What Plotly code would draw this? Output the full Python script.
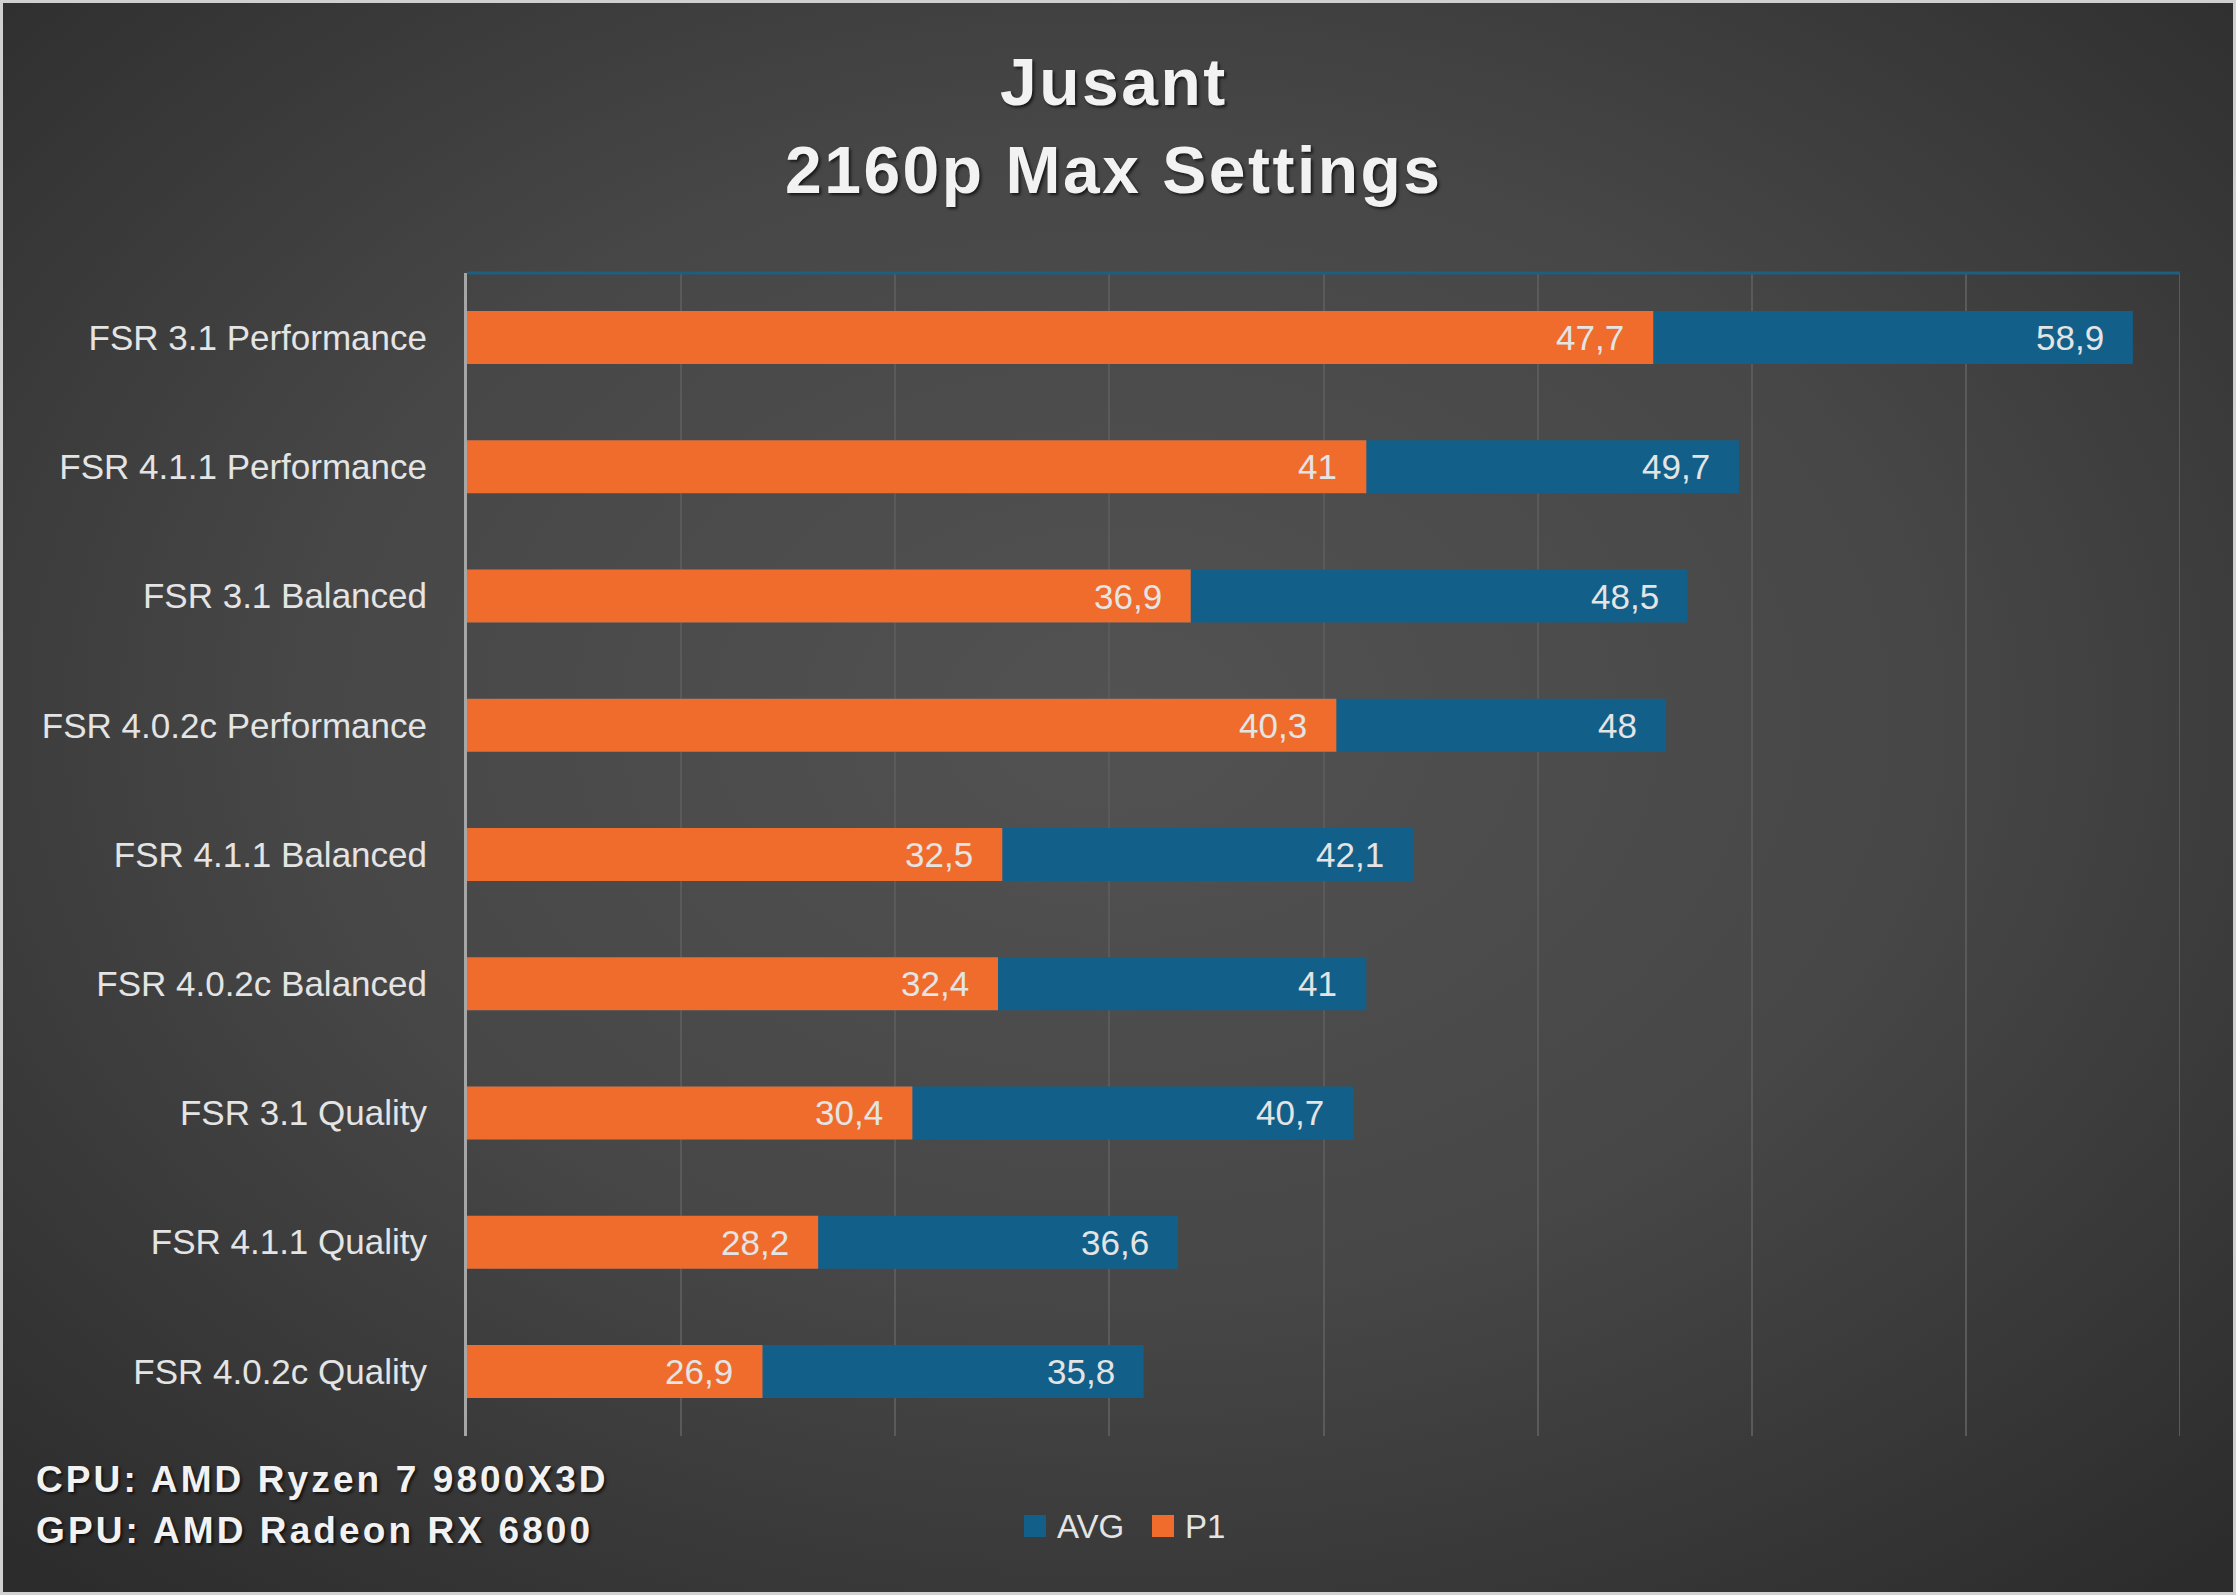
import base64
import plotly.graph_objects as go

# ---------------- data ----------------
categories = [
    "FSR 3.1 Performance",
    "FSR 4.1.1 Performance",
    "FSR 3.1 Balanced",
    "FSR 4.0.2c Performance",
    "FSR 4.1.1 Balanced",
    "FSR 4.0.2c Balanced",
    "FSR 3.1 Quality",
    "FSR 4.1.1 Quality",
    "FSR 4.0.2c Quality",
]
avg = [58.9, 49.7, 48.5, 48, 42.1, 41, 40.7, 36.6, 35.8]
p1 = [47.7, 41, 36.9, 40.3, 32.5, 32.4, 30.4, 28.2, 26.9]
series_names = ["AVG", "P1"]
title_lines = ["Jusant", "2160p Max Settings"]
system_lines = ["CPU: AMD Ryzen 7 9800X3D", "GPU: AMD Radeon RX 6800"]
x_min, x_max, x_step = 20, 60, 5

# ---------------- layout geometry ----------------
W, H = 2236, 1595
L, R, T, B = 467, 56, 273, 159
PW, PH = W - L - R, H - T - B


def px(x):
    return (x - L) / PW


def py(y):
    return (H - B - y) / PH


def fmt(v):
    return f"{v:g}".replace(".", ",")


BLUE = "#12608A"
ORANGE = "#EF6C2C"
LABEL = "#E4E4E4"
GRID = "#5A5A5A"
shadow = "2px 2px 3px rgba(0,0,0,0.65)"

fig = go.Figure()
fig.add_trace(go.Bar(y=categories, x=avg, orientation="h", name=series_names[0],
                     marker=dict(color=BLUE, line=dict(width=0)), showlegend=False,
                     hoverinfo="x+y"))
fig.add_trace(go.Bar(y=categories, x=p1, orientation="h", name=series_names[1],
                     marker=dict(color=ORANGE, line=dict(width=0)), showlegend=False,
                     hoverinfo="x+y"))

annotations = []
for cat, a, p in zip(categories, avg, p1):
    for v in (a, p):
        annotations.append(dict(x=v, y=cat, xref="x", yref="y", text=fmt(v),
                                showarrow=False, xanchor="right", yanchor="middle",
                                xshift=-27, font=dict(family="Liberation Sans", size=35, color=LABEL)))

title_y = [82, 170]
for t, yy in zip(title_lines, title_y):
    annotations.append(dict(x=px(1114), y=py(yy), xref="paper", yref="paper",
                            text=f'<span style="letter-spacing:2.5px">{t}</span>',
                            showarrow=False, xanchor="center", yanchor="middle",
                            font=dict(family="Liberation Sans", size=66, color="#F2F2F2",
                                      weight="bold", shadow=shadow)))
sys_y = [1479, 1530]
for t, yy in zip(system_lines, sys_y):
    annotations.append(dict(x=px(34), y=py(yy), xref="paper", yref="paper",
                            text=f'<span style="letter-spacing:3.1px">{t}</span>',
                            showarrow=False, xanchor="left", yanchor="middle",
                            font=dict(family="Liberation Sans", size=37, color="#F2F2F2",
                                      weight="bold", shadow=shadow)))

# legend (drawn manually to get the larger square keys)
shapes = []
legend_y = 1526
for nm, col, sx in zip(series_names, [BLUE, ORANGE], [1024, 1152]):
    shapes.append(dict(type="rect", xref="paper", yref="paper",
                       x0=px(sx), x1=px(sx + 22), y0=py(legend_y - 11), y1=py(legend_y + 11),
                       fillcolor=col, line=dict(width=0)))
    annotations.append(dict(x=px(sx + 31), y=py(legend_y), xref="paper", yref="paper",
                            text=nm, showarrow=False, xanchor="left", yanchor="middle",
                            font=dict(family="Liberation Sans", size=33, color=LABEL)))

# right edge gridline (at x_max)
shapes.append(dict(type="line", xref="x", yref="paper", x0=x_max, x1=x_max, y0=0, y1=1,
                   line=dict(color=GRID, width=2), layer="below"))
# top border line
shapes.append(dict(type="line", xref="paper", yref="paper", x0=0, x1=1, y0=1, y1=1,
                   line=dict(color="#1D5F80", width=3)))
# outer frame
shapes.append(dict(type="rect", xref="paper", yref="paper", x0=px(1.5), x1=px(W - 1.5),
                   y0=py(1.5), y1=py(H - 1.5), line=dict(color="#D0D0D0", width=3),
                   fillcolor="rgba(0,0,0,0)"))

svg = (
    f"<svg xmlns='http://www.w3.org/2000/svg' width='{W}' height='{H}' viewBox='0 0 {W} {H}' preserveAspectRatio='none'>"
    "<defs><radialGradient id='g' cx='0.5' cy='0.45' r='0.72'>"
    "<stop offset='0' stop-color='#525252'/><stop offset='0.5' stop-color='#474747'/>"
    "<stop offset='1' stop-color='#2c2c2c'/></radialGradient></defs>"
    f"<rect width='{W}' height='{H}' fill='url(#g)'/></svg>"
)
bg_src = "data:image/svg+xml;base64," + base64.b64encode(svg.encode()).decode()

fig.update_layout(
    width=W, height=H,
    margin=dict(l=L, r=R, t=T, b=B, pad=0),
    paper_bgcolor="#404040",
    plot_bgcolor="rgba(0,0,0,0)",
    barmode="overlay",
    bargap=0.59,
    showlegend=False,
    annotations=annotations,
    images=[dict(source=bg_src, xref="paper", yref="paper", x=px(0), y=py(0),
                 sizex=W / PW, sizey=H / PH, xanchor="left", yanchor="top",
                 sizing="stretch", layer="below")],
    shapes=shapes,
    xaxis=dict(range=[x_min, x_max], dtick=x_step, tick0=0, showgrid=True, gridcolor=GRID,
               gridwidth=2, showticklabels=False, zeroline=False, showline=False,
               ticks=""),
    yaxis=dict(categoryorder="array", categoryarray=categories, autorange="reversed",
               showgrid=False, showline=True, linecolor="#A6A6A6", linewidth=3,
               ticks="", ticklabelstandoff=30,
               tickfont=dict(family="Liberation Sans", size=35, color=LABEL)),
    font=dict(family="Liberation Sans"),
)

fig.write_html("out.html")
